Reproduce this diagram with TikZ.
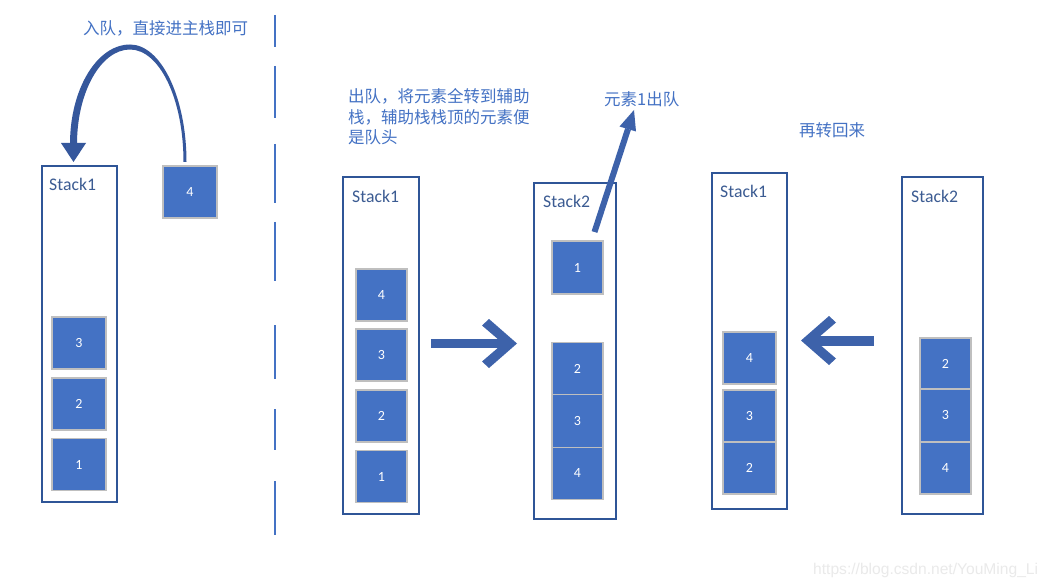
\documentclass[tikz,border=0pt]{standalone}
\usepackage{fontspec}
\setmainfont{Carlito}
\newfontfamily\cjkfont{Noto Sans CJK SC}
\newfontfamily\wmfont{Liberation Sans}
\definecolor{sqfill}{HTML}{4472C4}
\definecolor{sqedge}{HTML}{BFBFBF}
\definecolor{stedge}{HTML}{2F5597}
\definecolor{stlabel}{HTML}{3B5B92}
\definecolor{arrowc}{HTML}{3D62AA}
\definecolor{arcc}{HTML}{35579C}
\definecolor{txtc}{HTML}{4472C4}
\definecolor{dashc}{HTML}{4472C4}
\definecolor{wmc}{HTML}{EAEAEA}
\tikzset{
  stackbox/.style={draw=stedge, line width=1.3pt, fill=white, inner sep=0pt},
  sq/.style={draw=sqedge, line width=1.2pt, fill=sqfill, text=white, inner sep=0pt,
    font=\fontsize{14}{16}\selectfont},
  stlab/.style={anchor=west, inner sep=0pt, text=stlabel, font=\fontsize{17.7}{20}\selectfont},
  cjk/.style={anchor=west, inner sep=0pt, text=txtc, align=left,
    font=\cjkfont\fontsize{16.5}{20.5}\selectfont},
  dashseg/.style={draw=dashc, line width=2pt},
  blockarrow/.style={fill=arrowc, draw=none}
}
\begin{document}
\begin{tikzpicture}[x=1pt,y=-1pt]
\useasboundingbox (0,0) rectangle (1052,588);
\fill[white] (0,0) rectangle (1052,588);

% dashed divider
\foreach \a/\b in {15/47,66/118,144/203,222/281,325/379,409/450,481/535}
  \draw[dashseg] (275,\a) -- (275,\b);

% ---------- left part ----------
\node[stackbox, minimum width=75, minimum height=336] (L1) at (79.5,334) {};
\node[stlab] (L1lab) at (49,184) {Stack1};
\node[sq, minimum width=54, minimum height=52] (L1c) at (79,343) {3};
\node[sq, minimum width=54, minimum height=52] (L1b) at (79,404) {2};
\node[sq, minimum width=54, minimum height=52] (L1a) at (79,464.5) {1};
\node[sq, minimum width=54, minimum height=52] (N4) at (190,192) {4};
\node[cjk] (T1) at (83,28) {入队，直接进主栈即可};

% curved arrow from new element to stack1
\coordinate (arcS) at (N4.north);
\coordinate (arcE) at (73.5,144);
\fill[arcc] (186.5,162) .. controls (186.5,97.7) and (161.2,44.5) .. (130,44.5)
  .. controls (97,44.5) and (70,89) .. (70,144)
  -- (77,144) .. controls (77,92) and (101,49.5) .. (130,49.5)
  .. controls (159.5,49.5) and (183.5,99) .. (183.5,162) -- cycle;
\fill[arcc] (61,143) -- (86,143) -- (73.5,162) -- cycle;

% ---------- middle part ----------
\node[cjk] (T2) at (348,117) {出队，将元素全转到辅助\\栈，辅助栈栈顶的元素便\\是队头};
\node[stackbox, minimum width=76, minimum height=337] (M1) at (381,345.5) {};
\node[stlab] (M1lab) at (352,196) {Stack1};
\node[sq, minimum width=51, minimum height=52] (M1d) at (381.5,295) {4};
\node[sq, minimum width=51, minimum height=52] (M1c) at (381.5,355) {3};
\node[sq, minimum width=51, minimum height=52] (M1b) at (381.5,416) {2};
\node[sq, minimum width=51, minimum height=52] (M1a) at (381.5,476.5) {1};

\node[stackbox, minimum width=82, minimum height=336] (M2) at (575,351) {};
\node[stlab] (M2lab) at (543,201) {Stack2};
\node[sq, minimum width=51, minimum height=53] (M2a) at (577.5,267.5) {1};
\node[sq, minimum width=51, minimum height=52.5] (M2b) at (577.5,368.5) {2};
\node[sq, minimum width=51, minimum height=52.5] (M2c) at (577.5,421) {3};
\node[sq, minimum width=51, minimum height=52.5] (M2d) at (577.5,473.5) {4};

% right block arrow (Stack1 -> Stack2)
\fill[blockarrow] (431,339) rectangle (507,348);
\fill[blockarrow] (517,343.5) -- (489,368) -- (482,361.5) -- (503,343.5)
  -- (482,325.5) -- (489,319) -- cycle;

% element 1 leaves
\node[cjk] (T3) at (604,99) {元素1出队};
\coordinate (outS) at (594.5,232);
\coordinate (outE) at (628,129);
\draw[arrowc, line width=6pt] (outS) -- (outE);
\fill[arrowc] (634,110) -- (636,131.5) -- (619.5,126.5) -- cycle;

% ---------- right part ----------
\node[cjk] (T4) at (799,130) {再转回来};
\node[stackbox, minimum width=75, minimum height=336] (R1) at (749.5,341) {};
\node[stlab] (R1lab) at (720,191) {Stack1};
\node[sq, minimum width=53, minimum height=52] (R1c) at (749.5,358) {4};
\node[sq, minimum width=53, minimum height=52] (R1b) at (749.5,416) {3};
\node[sq, minimum width=53, minimum height=52] (R1a) at (749.5,468) {2};

\node[stackbox, minimum width=81, minimum height=337] (R2) at (942.5,345.5) {};
\node[stlab] (R2lab) at (911,196) {Stack2};
\node[sq, minimum width=51, minimum height=51] (R2b) at (945.5,363.5) {2};
\node[sq, minimum width=51, minimum height=53] (R2c) at (945.5,415.5) {3};
\node[sq, minimum width=51, minimum height=52] (R2d) at (945.5,468) {4};

% left block arrow (Stack2 -> Stack1)
\fill[blockarrow] (812,336) rectangle (874,345.5);
\fill[blockarrow] (801,340.5) -- (829,316) -- (836,322.5) -- (815,340.5)
  -- (836,358.5) -- (829,365) -- cycle;

% watermark
\node[anchor=west, inner sep=0pt, text=wmc, font=\wmfont\fontsize{15.6}{18}\selectfont]
  (WM) at (813,570) {https://blog.csdn.net/YouMing\_Li};
\end{tikzpicture}
\end{document}
